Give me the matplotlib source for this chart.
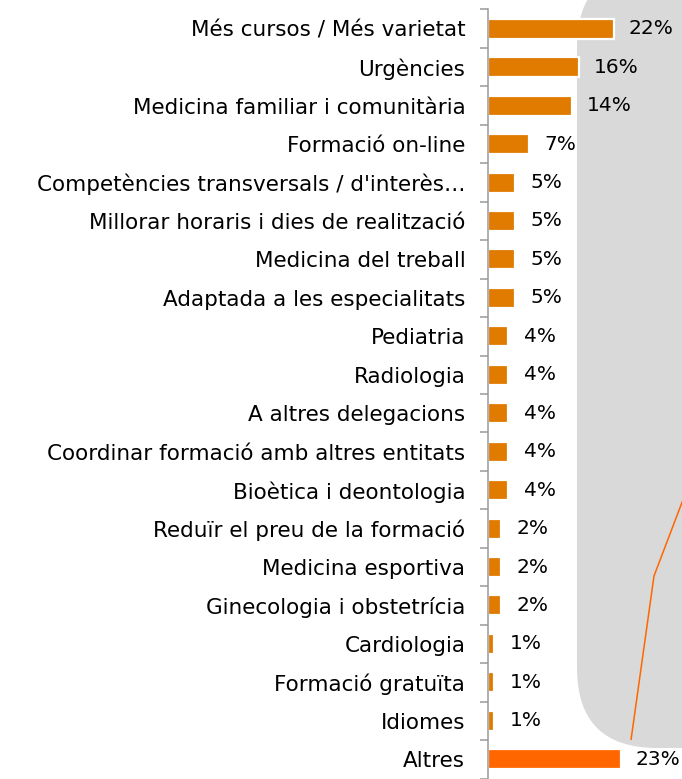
import matplotlib
matplotlib.use("Agg")
import matplotlib.pyplot as plt
from matplotlib.patches import FancyBboxPatch
import numpy as np

categories = [
    "Més cursos / Més varietat",
    "Urgències",
    "Medicina familiar i comunitària",
    "Formació on-line",
    "Competències transversals / d'interès…",
    "Millorar horaris i dies de realització",
    "Medicina del treball",
    "Adaptada a les especialitats",
    "Pediatria",
    "Radiologia",
    "A altres delegacions",
    "Coordinar formació amb altres entitats",
    "Bioètica i deontologia",
    "Reduïr el preu de la formació",
    "Medicina esportiva",
    "Ginecologia i obstetrícia",
    "Cardiologia",
    "Formació gratuïta",
    "Idiomes",
    "Altres",
]
values = [21.7, 15.7, 14.5, 7.2, 4.8, 4.8, 4.8, 4.8, 3.6, 3.6, 3.6, 3.6, 3.6,
          2.4, 2.4, 2.4, 1.2, 1.2, 1.2, 22.9]
labels = [f"{round(v):d}%" for v in values]
bar_colors = ["#E07B00"] * 19 + ["#FF6600"]

W, H = 682, 779
fig = plt.figure(figsize=(W / 100, H / 100), dpi=100)
fig.patch.set_facecolor("white")

# background decoration (pie part of bar-of-pie)
bg = fig.add_axes([0, 0, 1, 1], zorder=0)
bg.set_xlim(0, W)
bg.set_ylim(H, 0)
bg.axis("off")
bg.add_patch(FancyBboxPatch((577, -33), 300, 781,
                            boxstyle="round,pad=0,rounding_size=80",
                            facecolor="#D9D9D9", edgecolor="none"))
bg.plot([631, 654, 700], [740, 576, 455], color="#FF6600", lw=1.1,
        solid_capstyle="butt")

ax = fig.add_axes([487.5 / W, 0.5 / H, 1 - 487.5 / W, 769 / H], zorder=1)
ax.patch.set_alpha(0)
y = np.arange(len(categories))
ax.barh(y, values, height=0.52, color=bar_colors, edgecolor="white",
        linewidth=1.6)
ax.set_ylim(len(categories) - 0.5, -0.5)
ax.set_xlim(0, (W - 487.5) / 5.81)

for yi, v, lab in zip(y, values, labels):
    ax.annotate(lab, (v, yi), xytext=(11, 0), textcoords="offset points",
                va="center", ha="left", fontsize=14.5, color="#000000")

ax.set_yticks(y)
ax.set_yticklabels(categories, fontsize=15.5, color="#000000")
ax.set_yticks(np.arange(-0.5, len(categories), 1.0), minor=True)
ax.tick_params(axis="y", which="major", length=0, pad=16)
ax.tick_params(axis="y", which="minor", length=5.5, width=1.1, color="#9A9A9A")
ax.set_xticks([])
for s in ["top", "right", "bottom"]:
    ax.spines[s].set_visible(False)
ax.spines["left"].set_color("#9A9A9A")
ax.spines["left"].set_linewidth(1.1)

fig.savefig("out.png", dpi=100)
